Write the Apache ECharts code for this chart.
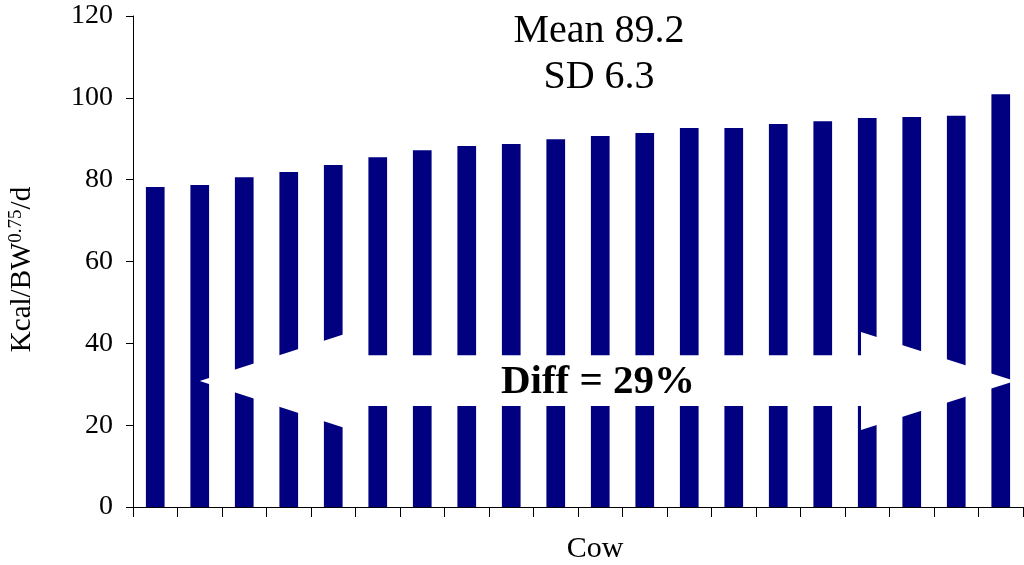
<!DOCTYPE html>
<html>
<head>
<meta charset="utf-8">
<script src="https://cdn.jsdelivr.net/npm/echarts@6/dist/echarts.min.js"></script>
<style>html,body{margin:0;padding:0;background:#fff}#c{width:1024px;height:565px}</style>
</head>
<body>
<div id="c"></div>
<script>
// ---- data ----
var categories = ['1','2','3','4','5','6','7','8','9','10','11','12','13','14','15','16','17','18','19','20'];
var values = [78.2, 78.7, 80.6, 81.9, 83.6, 85.5, 87.2, 88.2, 88.7, 89.9, 90.7, 91.4, 92.6, 92.6, 93.6, 94.3, 95.1, 95.3, 95.6, 100.9];
var yTicks = {min: 0, max: 120, interval: 20};
var titleLines = ['Mean 89.2', 'SD 6.3'];
var diffLabel = 'Diff = 29%';
// arrow outline in [category index, value] units
var arrowShape = [
  [1.0, 30.8], [4.38, 42.7], [4.38, 37.1], [15.86, 37.1], [15.86, 42.8],
  [19.32, 30.8], [15.86, 18.8], [15.86, 24.7], [4.38, 24.7], [4.38, 18.9]
];
var diffLabelPos = [9.95, 30.5];

var FONT = '"Liberation Serif", "Times New Roman", serif';
var chart = echarts.init(document.getElementById('c'));
var option = {
  animation: false,
  backgroundColor: '#fff',
  title: {
    text: titleLines.join('\n'),
    left: 594,
    top: 3,
    textAlign: 'center',
    textStyle: {fontFamily: FONT, fontSize: 40, fontWeight: 'normal', color: '#000', lineHeight: 46}
  },
  grid: {left: 133, right: 1, top: 16, bottom: 58, containLabel: false, outerBoundsMode: 'none'},
  xAxis: {
    type: 'category',
    data: categories,
    name: 'Cow',
    nameLocation: 'middle',
    nameGap: 27,
    nameTextStyle: {fontFamily: FONT, fontSize: 30, color: '#000', padding: [0, 0, 0, 34]},
    axisLine: {lineStyle: {color: '#000', width: 1}},
    axisTick: {show: true, length: 10, lineStyle: {color: '#000'}},
    axisLabel: {show: false}
  },
  yAxis: {
    type: 'value',
    min: yTicks.min, max: yTicks.max, interval: yTicks.interval,
    name: '{m|Kcal/BW}{s|0.75}{m|/d}',
    nameLocation: 'middle',
    nameRotate: 90,
    nameGap: 96,
    nameTextStyle: {
      padding: [0, 16, 0, 0],
      rich: {
        m: {fontFamily: FONT, fontSize: 29, color: '#000', verticalAlign: 'bottom', lineHeight: 30},
        s: {fontFamily: FONT, fontSize: 19, color: '#000', verticalAlign: 'top', lineHeight: 30}
      }
    },
    axisLine: {show: true, lineStyle: {color: '#000', width: 1}},
    axisTick: {show: true, length: 7, lineStyle: {color: '#000'}},
    axisLabel: {fontFamily: FONT, fontSize: 28, color: '#000', margin: 20},
    splitLine: {show: false}
  },
  series: [{
    type: 'bar',
    data: values,
    barWidth: '42%',
    itemStyle: {color: '#000080'}
  }]
};
chart.setOption(option);

function toPx(p) {
  var a = chart.convertToPixel({gridIndex: 0}, [0, p[1]]);
  var b = chart.convertToPixel({gridIndex: 0}, [1, p[1]]);
  return [a[0] + (b[0] - a[0]) * p[0], a[1]];
}
var pts = arrowShape.map(toPx);
var lp = toPx(diffLabelPos);
chart.setOption({
  graphic: [
    {type: 'polygon', shape: {points: pts}, style: {fill: '#fff', stroke: null}, z: 100},
    {type: 'text', x: lp[0], y: lp[1], z: 101,
     style: {text: diffLabel, fontFamily: FONT, fontSize: 41, fontWeight: 'bold', fill: '#000', align: 'center', verticalAlign: 'middle'}}
  ]
});
</script>
</body>
</html>
